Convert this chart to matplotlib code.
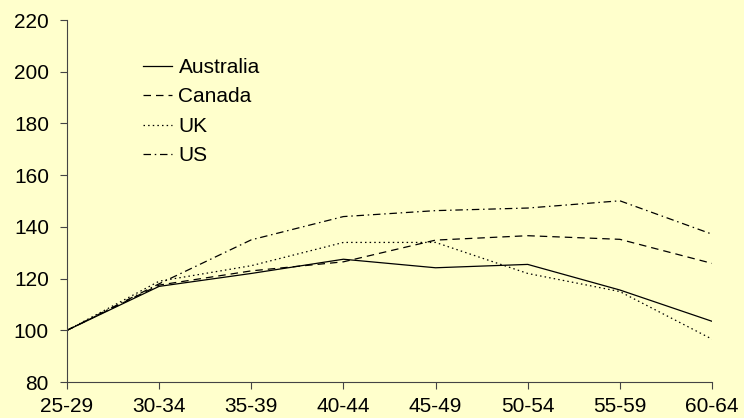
import matplotlib
matplotlib.use("Agg")
import matplotlib.pyplot as plt

# ─── DATA ───────────────────────────────────────────────────────────────────
AGE_GROUPS = ["25-29", "30-34", "35-39", "40-44", "45-49", "50-54", "55-59", "60-64"]
AUSTRALIA = [100, 117, 122, 127.5, 124.2, 125.5, 115.6, 103.5]
CANADA    = [100, 117.5, 123, 126.5, 134.9, 136.6, 135.2, 125.9]
UK        = [100, 119, 125, 134, 134, 122, 115, 96.6]
US        = [100, 118, 135, 144, 146.3, 147.3, 150.1, 137.2]

BG = "#FFFFCC"
plt.rcParams["font.family"] = ["Liberation Sans", "DejaVu Sans"]

fig = plt.figure(figsize=(7.44, 4.18), dpi=100, facecolor=BG)
ax = fig.add_axes([0.090, 0.086, 0.867, 0.866], facecolor=BG)

x = list(range(len(AGE_GROUPS)))
ax.plot(x, AUSTRALIA, color="black", lw=0.9, ls="-", label="Australia")
ax.plot(x, CANADA, color="black", lw=0.9, ls=(0, (6, 4)), label="Canada")
ax.plot(x, UK, color="black", lw=0.9, ls=(0, (1.2, 2.5)), label="UK")
ax.plot(x, US, color="black", lw=0.9, ls=(0, (6, 3, 1.2, 3)), label="US")

ax.set_xlim(0, len(AGE_GROUPS) - 1)
ax.set_ylim(80, 220)
ax.set_xticks(x)
ax.set_xticklabels(AGE_GROUPS)
ax.set_yticks(range(80, 221, 20))
ax.tick_params(labelsize=15, length=5, width=0.8, color="#444444", direction="out", pad=6)
ax.tick_params(axis="y", pad=8)

for side in ("top", "right"):
    ax.spines[side].set_visible(False)
for side in ("left", "bottom"):
    ax.spines[side].set_color("#444444")
    ax.spines[side].set_linewidth(0.8)

ax.legend(loc="upper left", bbox_to_anchor=(0.118, 0.895), frameon=False, fontsize=15,
          handlelength=1.4, handletextpad=0.3, labelspacing=0.5, borderaxespad=0,
          borderpad=0)

fig.savefig("out.png", dpi=100, facecolor=BG)
